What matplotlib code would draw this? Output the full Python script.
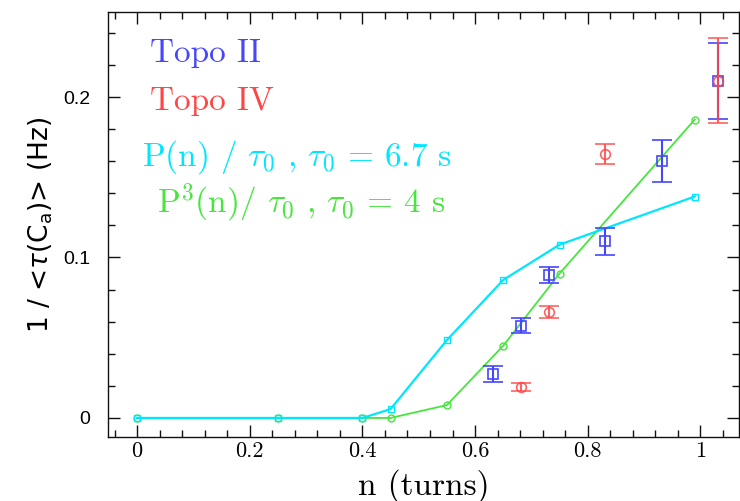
import matplotlib
matplotlib.use("Agg")
import matplotlib.pyplot as plt
from matplotlib.ticker import MultipleLocator

# model curves
n_model = [0, 0.25, 0.4, 0.45, 0.55, 0.65, 0.75, 0.99]
p_model = [0, 0, 0, 0.0055, 0.0485, 0.086, 0.108, 0.138]     # P(n)/tau0
p3_model = [0, 0, 0, 0, 0.008, 0.045, 0.09, 0.186]           # P^3(n)/tau0

# Topo II
n_topo2 = [0.632, 0.682, 0.732, 0.831, 0.932, 1.031]
r_topo2 = [0.0275, 0.0575, 0.089, 0.110, 0.160, 0.210]
e_topo2 = [0.005, 0.0045, 0.0052, 0.0084, 0.013, 0.0237]

# Topo IV
n_topo4 = [0.682, 0.732, 0.831, 1.031]
r_topo4 = [0.0195, 0.0658, 0.1645, 0.2103]
e_topo4 = [0.0025, 0.0037, 0.0065, 0.0265]

blue = "#4646ff"
red = "#ff4646"
cyan = "#00e6ff"
green = "#46e63c"

plt.rcParams['mathtext.fontset'] = 'cm'
plt.rcParams['axes.formatter.use_mathtext'] = True

W, H = 740, 501
fig = plt.figure(figsize=(W / 100, H / 100), dpi=100)
ax = fig.add_axes([0.146, 0.128, 0.853, 0.848])

ax.plot(n_model, p3_model, color=green, lw=1.3, marker='o', ms=5,
        mfc='none', mec=green, mew=1.0, zorder=2)
ax.plot(n_model, p_model, color=cyan, lw=1.6, marker='s', ms=5,
        mfc='none', mec=cyan, mew=1.0, zorder=3)

ax.errorbar(n_topo2, r_topo2, yerr=e_topo2, fmt='s', color=blue, ms=7,
            mfc='none', mec=blue, mew=1.2, elinewidth=1.5, capsize=7,
            capthick=1.5, zorder=4)
ax.errorbar(n_topo4, r_topo4, yerr=e_topo4, fmt='o', color=red, ms=7,
            mfc='none', mec=red, mew=1.2, elinewidth=1.5, capsize=7,
            capthick=1.5, alpha=0.85, zorder=5)

ax.set_xlim(-0.0515, 1.069)
ax.set_ylim(-0.0118, 0.253)

ax.xaxis.set_major_locator(MultipleLocator(0.2))
ax.xaxis.set_minor_locator(MultipleLocator(0.04))
ax.yaxis.set_major_locator(MultipleLocator(0.1))
ax.yaxis.set_minor_locator(MultipleLocator(0.02))
ax.xaxis.set_major_formatter(matplotlib.ticker.FuncFormatter(lambda v, p: f"{v:g}"))
ax.yaxis.set_major_formatter(matplotlib.ticker.FuncFormatter(lambda v, p: f"{v:g}"))

ax.tick_params(which='both', direction='in', top=True, right=True, color='#111111', width=1)
ax.tick_params(which='major', length=8.5)
ax.tick_params(which='minor', length=5)
ax.tick_params(axis='x', labelsize=16, labelfontfamily='cmr10', pad=3)
ax.tick_params(axis='y', labelsize=14, labelfontfamily='Liberation Sans', pad=13)
for s in ax.spines.values():
    s.set_linewidth(1.0)
    s.set_color('#111111')

ax.set_xlabel("n (turns)", fontsize=24, fontfamily='cmr10', labelpad=6)
ax.set_ylabel(r"1 / <$\tau$(C$_\mathrm{a}$)> (Hz)", fontsize=19,
              fontfamily='DejaVu Sans', math_fontfamily='dejavusans', labelpad=6)

ax.text(150 / W, 1 - 62 / H, "Topo II", transform=fig.transFigure, color=blue,
        fontsize=24, fontfamily='cmr10')
ax.text(150 / W, 1 - 110 / H, "Topo IV", transform=fig.transFigure, color=red,
        fontsize=24, fontfamily='cmr10')
ax.text(142 / W, 1 - 166 / H, r"P(n) / $\tau_0$ , $\tau_0$ = 6.7 s", transform=fig.transFigure,
        color=cyan, fontsize=24, fontfamily='cmr10', math_fontfamily='cm')
ax.text(157 / W, 1 - 213 / H, r"P$^3$(n)/ $\tau_0$ , $\tau_0$ = 4 s", transform=fig.transFigure,
        color=green, fontsize=24, fontfamily='cmr10', math_fontfamily='cm')

fig.savefig("out.png", dpi=100)
